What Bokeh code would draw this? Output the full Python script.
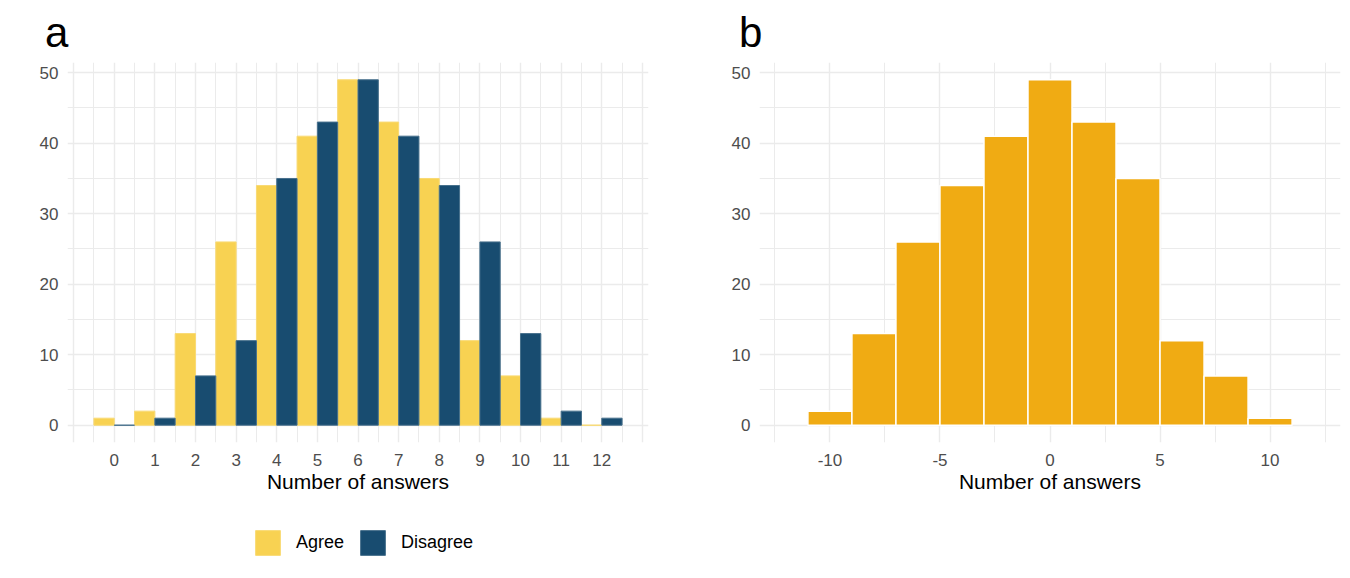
from bokeh.plotting import figure
from bokeh.layouts import row, column
from bokeh.models import FixedTicker, Legend, LegendItem, Title, Range1d, ColumnDataSource
from bokeh.transform import dodge
from bokeh.embed import file_html
from bokeh.resources import INLINE

# ---- data (panel a) ----
answers = list(range(13))
agree = [1, 2, 13, 26, 34, 41, 49, 43, 35, 12, 7, 1, 0]
disagree = [0, 1, 7, 12, 35, 43, 49, 41, 34, 26, 13, 2, 1]
series_labels = ["Agree", "Disagree"]

# ---- data (panel b) ----
diff_centers = [-10, -8, -6, -4, -2, 0, 2, 4, 6, 8, 10]
diff_counts = [2, 13, 26, 34, 41, 49, 43, 35, 12, 7, 1]
x_ticks_b = [-10, -5, 0, 5, 10]
y_ticks = [0, 10, 20, 30, 40, 50]

FONT = "Liberation Sans"
GRID = "#EBEBEB"
TICK_COL = "#4D4D4D"
YELLOW = "#F8D252"
BLUE = "#184C70"
ORANGE = "#F0AB13"
YELLOW_EDGE = "#F9DA74"
BLUE_EDGE = "#47708C"


def style(p):
    p.outline_line_color = None
    for ax in (p.xaxis[0], p.yaxis[0]):
        ax.axis_line_color = None
        ax.major_tick_line_color = None
        ax.minor_tick_line_color = None
        ax.major_tick_out = 0
        ax.major_tick_in = 0
        ax.minor_tick_out = 0
        ax.minor_tick_in = 0
        ax.major_label_text_font = FONT
        ax.major_label_text_font_size = "17px"
        ax.major_label_text_color = TICK_COL
        ax.axis_label_text_font = FONT
        ax.axis_label_text_font_size = "21px"
        ax.axis_label_text_font_style = "normal"
        ax.axis_label_text_color = "black"
    p.xaxis.major_label_standoff = 11
    p.xaxis.axis_label_standoff = 1
    p.yaxis.major_label_standoff = 9
    for g in (p.xgrid[0], p.ygrid[0]):
        g.grid_line_color = GRID
        g.grid_line_width = 1.4
        g.minor_grid_line_color = GRID
        g.minor_grid_line_width = 1.0


def tag(p, text, offset, standoff):
    p.add_layout(Title(text=text, align="left", offset=offset, standoff=standoff,
                       text_font=FONT, text_font_size="42px", text_font_style="normal",
                       text_color="black", text_line_height=1.0), "above")


TOP_H = 505
LEG_H = 65

# ---------------- panel a ----------------
pa = figure(width=700, height=TOP_H, x_range=Range1d(-1.15, 13.15), y_range=Range1d(-2.45, 51.45),
            output_backend="svg", toolbar_location=None,
            min_border_left=67, min_border_right=52, min_border_top=58, min_border_bottom=63)
src_a = ColumnDataSource(dict(x=answers, agree=agree, disagree=disagree))
pa.vbar(x=dodge("x", -0.25), top="agree", bottom=0, width=0.5, source=src_a,
        fill_color=YELLOW, line_color=YELLOW_EDGE, line_width=1)
pa.vbar(x=dodge("x", 0.25), top="disagree", bottom=0, width=0.5, source=src_a,
        fill_color=BLUE, line_color=BLUE_EDGE, line_width=1)

pa.xaxis.ticker = FixedTicker(ticks=list(range(-1, 14)), minor_ticks=[v + 0.5 for v in range(-2, 14)])
pa.xaxis.major_label_overrides = {-1: "", 13: ""}
pa.yaxis.ticker = FixedTicker(ticks=y_ticks, minor_ticks=[5, 15, 25, 35, 45])
pa.xaxis.axis_label = "Number of answers"
style(pa)
tag(pa, "a", -22.5, 13)

# ---------------- legend strip under panel a ----------------
pl = figure(width=700, height=LEG_H, x_range=pa.x_range, y_range=Range1d(0, 1),
            output_backend="svg", toolbar_location=None,
            min_border_left=67, min_border_right=52, min_border_top=0, min_border_bottom=0)
pl.axis.visible = False
pl.grid.visible = False
pl.outline_line_color = None
la = pl.vbar(x=dodge("x", -0.25), top="agree", bottom=0, width=0.5, source=src_a,
             fill_color=YELLOW, line_color=YELLOW_EDGE, line_width=1, visible=False)
ld = pl.vbar(x=dodge("x", 0.25), top="disagree", bottom=0, width=0.5, source=src_a,
             fill_color=BLUE, line_color=BLUE_EDGE, line_width=1, visible=False)
legend = Legend(items=[LegendItem(label=series_labels[0], renderers=[la]),
                       LegendItem(label=series_labels[1], renderers=[ld])],
                orientation="horizontal", location=(185, 12),
                glyph_width=31, glyph_height=31, label_standoff=13, spacing=13,
                label_text_font=FONT, label_text_font_size="18px", label_text_color="black",
                padding=0, margin=0, border_line_color=None, background_fill_alpha=0,
                inactive_fill_alpha=0)
pl.add_layout(legend, "center")

# ---------------- panel b ----------------
pb = figure(width=645, height=TOP_H, x_range=Range1d(-13.2, 13.2), y_range=Range1d(-2.45, 51.45),
            output_backend="svg", toolbar_location=None,
            min_border_left=59, min_border_right=5, min_border_top=58, min_border_bottom=63)
src_b = ColumnDataSource(dict(x=diff_centers, count=diff_counts))
pb.vbar(x="x", top="count", bottom=0, width=2, source=src_b,
        fill_color=ORANGE, line_color="white", line_width=1.5)
pb.xaxis.ticker = FixedTicker(ticks=x_ticks_b, minor_ticks=[-12.5, -7.5, -2.5, 2.5, 7.5, 12.5])
pb.xaxis.major_label_overrides = {v: str(v) for v in x_ticks_b}
pb.yaxis.ticker = FixedTicker(ticks=y_ticks, minor_ticks=[5, 15, 25, 35, 45])
pb.xaxis.axis_label = "Number of answers"
style(pb)
tag(pb, "b", -20.6, 12.5)

layout = column(row(pa, pb, spacing=0), pl, spacing=0)
open("out.html", "w").write(file_html(layout, INLINE))
